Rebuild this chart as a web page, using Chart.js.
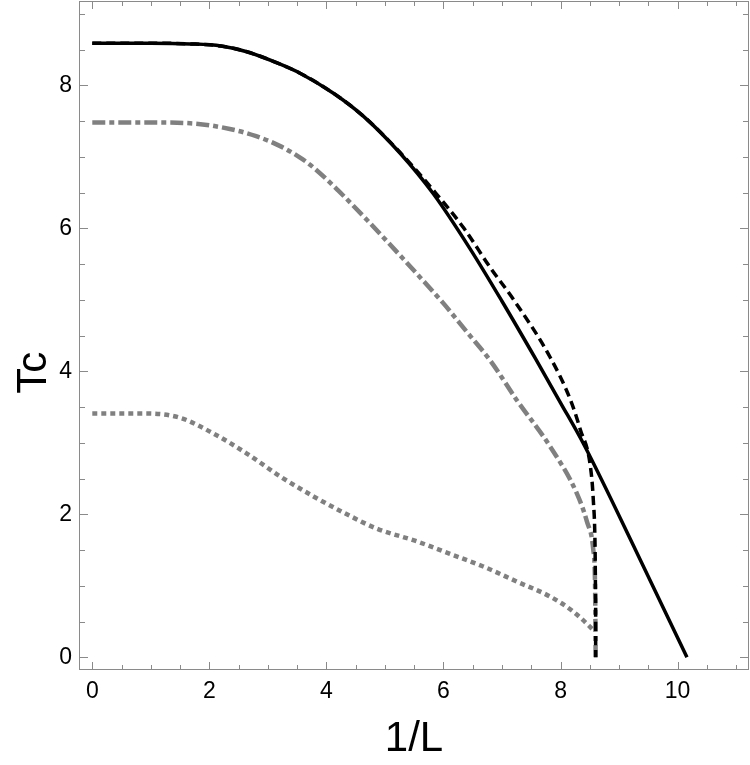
<!DOCTYPE html>
<html>
<head>
<meta charset="utf-8">
<script src="https://cdn.jsdelivr.net/npm/chart.js@4/dist/chart.umd.min.js"></script>
<style>
  body { margin: 0; background: #fff; }
  canvas { display: block; }
</style>
</head>
<body>
<canvas id="tcChart" width="750" height="765"></canvas>
<script>
// axis ranges + tick labels
const xRange = [-0.227, 11.22];
const yRange = [-0.178, 9.18];
const xTickValues = [0, 2, 4, 6, 8, 10];
const yTickValues = [0, 2, 4, 6, 8];
const xTitle = '1/L';
const yTitle = 'Tc';

// solid black curve
const solidX = [0, 1.0, 1.67, 2.2, 2.64, 3.2, 3.55, 4.12, 4.63, 5.26, 5.83, 6.45, 7.0, 7.57, 8.0, 8.39, 9.3, 10.16];
const solidY = [8.59, 8.59, 8.58, 8.55, 8.47, 8.30, 8.17, 7.89, 7.57, 7.05, 6.48, 5.72, 4.98, 4.18, 3.56, 2.99, 1.47, 0];

// dashed black curve
const dashedX = [0, 1.0, 1.67, 2.2, 2.64, 3.2, 3.55, 4.12, 4.63, 5.26, 5.83, 6.35, 6.8, 7.2, 7.82, 8.17, 8.34, 8.51, 8.56, 8.59, 8.6, 8.6];
const dashedY = [8.59, 8.59, 8.58, 8.55, 8.47, 8.30, 8.17, 7.89, 7.57, 7.06, 6.53, 6.0, 5.45, 5.0, 4.2, 3.6, 3.18, 2.67, 2.2, 1.55, 0.8, 0];

// gray dash-dot curve
const dashDotX = [0, 1.0, 1.67, 2.35, 2.8, 3.21, 3.55, 3.78, 4.2, 4.69, 5.26, 5.55, 6.0, 6.4, 6.8, 7.25, 7.82, 8.28, 8.45, 8.56, 8.59, 8.6];
const dashDotY = [7.48, 7.48, 7.47, 7.39, 7.29, 7.15, 6.99, 6.85, 6.53, 6.12, 5.62, 5.36, 4.95, 4.55, 4.15, 3.6, 2.95, 2.29, 1.9, 1.5, 1.0, 0];

// gray dotted curve
const dottedX = [0, 0.93, 1.5, 2.07, 2.64, 3.21, 3.78, 4.35, 4.86, 5.55, 6.1, 6.68, 7.25, 7.82, 8.2, 8.5, 8.57];
const dottedY = [3.41, 3.41, 3.35, 3.13, 2.85, 2.53, 2.25, 2.0, 1.8, 1.62, 1.45, 1.27, 1.06, 0.85, 0.65, 0.43, 0.37];

const toPoints = (xs, ys) => xs.map((x, i) => ({ x: x, y: ys[i] }));

// frame + inward ticks on all four sides, like Mathematica's Frame -> True
const frameTicks = {
  id: 'frameTicks',
  afterDraw(chart) {
    const { ctx, chartArea: a, scales } = chart;
    const xs = scales.x, ys = scales.y;
    ctx.save();
    ctx.strokeStyle = '#8a8a8a';
    ctx.lineWidth = 1;
    ctx.strokeRect(a.left + 0.5, a.top + 0.5, a.right - a.left - 1, a.bottom - a.top - 1);
    ctx.beginPath();
    for (let v = 0; v <= 11; v += 0.5) {
      const len = (v % 2 === 0) ? 8 : 5;
      const px = Math.round(xs.getPixelForValue(v)) + 0.5;
      ctx.moveTo(px, a.bottom); ctx.lineTo(px, a.bottom - len);
      ctx.moveTo(px, a.top); ctx.lineTo(px, a.top + len);
    }
    for (let v = 0; v <= 9; v += 0.5) {
      const len = (v % 2 === 0) ? 9 : 6;
      const py = Math.round(ys.getPixelForValue(v)) + 0.5;
      ctx.moveTo(a.left, py); ctx.lineTo(a.left + len, py);
      ctx.moveTo(a.right, py); ctx.lineTo(a.right - len, py);
    }
    ctx.stroke();

    // y title sits a bit below the middle in the original, so draw it here
    ctx.fillStyle = '#000';
    ctx.font = '42px "Liberation Sans", Arial, sans-serif';
    ctx.textAlign = 'center';
    ctx.textBaseline = 'middle';
    ctx.translate(34, ys.getPixelForValue(3.98));
    ctx.rotate(-Math.PI / 2);
    ctx.fillText(yTitle, 0, 0);
    ctx.restore();
  }
};

Chart.defaults.font.family = '"Liberation Sans", Arial, sans-serif';
Chart.defaults.color = '#000';

new Chart(document.getElementById('tcChart'), {
  type: 'scatter',
  data: {
    datasets: [
      {
        label: 'solid',
        data: toPoints(solidX, solidY),
        borderColor: '#000',
        borderWidth: 3.5,
      },
      {
        label: 'dashed',
        data: toPoints(dashedX, dashedY),
        borderColor: '#000',
        borderWidth: 3.5,
        borderDash: [9, 5],
      },
      {
        label: 'dash-dot',
        data: toPoints(dashDotX, dashDotY),
        borderColor: '#808080',
        borderWidth: 4.5,
        borderDash: [13, 4, 5, 4],
      },
      {
        label: 'dotted',
        data: toPoints(dottedX, dottedY),
        borderColor: '#808080',
        borderWidth: 4.5,
        borderDash: [5, 4],
      },
    ],
  },
  options: {
    responsive: false,
    animation: false,
    devicePixelRatio: 1,
    showLine: true,
    layout: { padding: { top: 1, right: 1, left: 0, bottom: 0 } },
    elements: {
      point: { radius: 0, hoverRadius: 0 },
      line: { cubicInterpolationMode: 'monotone', fill: false, borderCapStyle: 'butt' },
    },
    plugins: { legend: { display: false }, tooltip: { enabled: false } },
    scales: {
      x: {
        type: 'linear',
        min: xRange[0],
        max: xRange[1],
        afterBuildTicks: s => { s.ticks = xTickValues.map(v => ({ value: v })); },
        afterFit: s => { s.height = 95; s.paddingLeft = 0; s.paddingRight = 0; },
        grid: { display: false, drawTicks: false },
        border: { display: false },
        ticks: { font: { size: 23 }, padding: 8, maxRotation: 0 },
        title: { display: true, text: xTitle, font: { size: 42 }, padding: 0 },
      },
      y: {
        type: 'linear',
        min: yRange[0],
        max: yRange[1],
        afterBuildTicks: s => { s.ticks = yTickValues.map(v => ({ value: v })); },
        afterFit: s => { s.width = 79; s.paddingTop = 0; s.paddingBottom = 0; },
        grid: { display: false, drawTicks: false },
        border: { display: false },
        ticks: { font: { size: 23 }, padding: 7 },
        title: { display: false },
      },
    },
  },
  plugins: [frameTicks],
});
</script>
</body>
</html>
